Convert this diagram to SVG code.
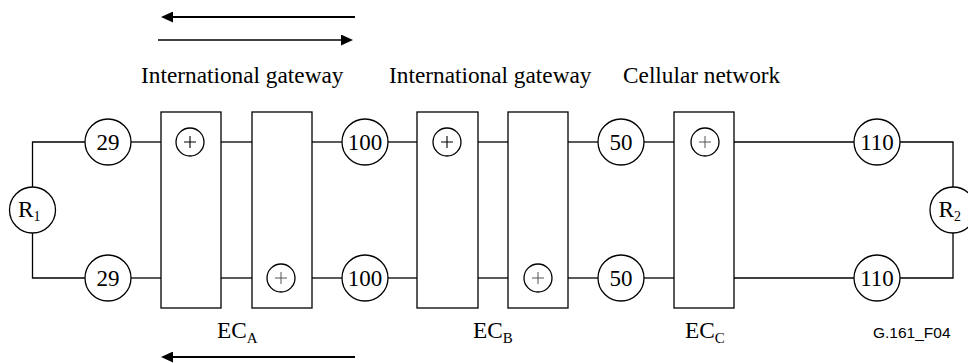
<svg xmlns="http://www.w3.org/2000/svg" width="968" height="363" viewBox="0 0 968 363">
<defs>
<style>
.w{stroke:#000;stroke-width:1.3;fill:none}
.c{stroke:#000;stroke-width:1.3;fill:#fff}
.b{stroke:#000;stroke-width:1.3;fill:#fff}
.p{stroke:#000;stroke-width:1.1;fill:none}
.pl{stroke:#444;stroke-width:0.9;fill:none}
.t{font-family:'Liberation Serif','Times New Roman',Times,serif;font-size:23.3px;fill:#000}
.n{font-family:'Liberation Serif','Times New Roman',Times,serif;font-size:23px;fill:#000;text-anchor:middle}
.s{font-family:'Liberation Sans',Arial,Helvetica,sans-serif;font-size:15.5px;fill:#000}
</style>
<marker id="ah" markerUnits="userSpaceOnUse" markerWidth="12" markerHeight="11" refX="8" refY="5.5" orient="auto">
<path d="M0,0 L12,5.5 L0,11 Z" fill="#000"/>
</marker>
</defs>
<rect width="968" height="363" fill="#fff"/>

<g id="direction-arrows">
<line x1="355" y1="17" x2="165" y2="17" stroke="#000" stroke-width="2" marker-end="url(#ah)"/>
<line x1="158" y1="40" x2="349" y2="40" stroke="#000" stroke-width="1.4" marker-end="url(#ah)"/>
<line x1="355" y1="357" x2="165" y2="357" stroke="#000" stroke-width="2" marker-end="url(#ah)"/>
</g>

<g id="labels" font-family="Liberation Serif, Times New Roman, serif">
<text class="t" x="141" y="83">International gateway</text>
<text class="t" x="389" y="83">International gateway</text>
<text class="t" x="623" y="83">Cellular network</text>
<text class="t" x="217" y="338">EC<tspan font-size="15" dy="5">A</tspan></text>
<text class="t" x="473" y="338">EC<tspan font-size="15" dy="5">B</tspan></text>
<text class="t" x="685" y="338">EC<tspan font-size="15" dy="5">C</tspan></text>
<text class="s" x="873" y="338" font-family="Liberation Sans, Arial, sans-serif">G.161_F04</text>
</g>

<g id="connectors">
<polyline class="w" points="85,142 32.5,142 32.5,187"/>
<polyline class="w" points="85,278 32.5,278 32.5,233"/>
<line class="w" x1="131" y1="142" x2="161" y2="142"/>
<line class="w" x1="131" y1="278" x2="161" y2="278"/>
<line class="w" x1="221" y1="142" x2="252" y2="142"/>
<line class="w" x1="221" y1="278" x2="252" y2="278"/>
<line class="w" x1="312" y1="142" x2="342" y2="142"/>
<line class="w" x1="312" y1="278" x2="342" y2="278"/>
<line class="w" x1="388" y1="142" x2="417" y2="142"/>
<line class="w" x1="388" y1="278" x2="417" y2="278"/>
<line class="w" x1="478" y1="142" x2="508" y2="142"/>
<line class="w" x1="478" y1="278" x2="508" y2="278"/>
<line class="w" x1="568" y1="142" x2="598" y2="142"/>
<line class="w" x1="568" y1="278" x2="598" y2="278"/>
<line class="w" x1="644" y1="142" x2="674" y2="142"/>
<line class="w" x1="644" y1="278" x2="674" y2="278"/>
<line class="w" x1="734" y1="142" x2="854" y2="142"/>
<line class="w" x1="734" y1="278" x2="854" y2="278"/>
<polyline class="w" points="900,142 953,142 953,187"/>
<polyline class="w" points="900,278 953,278 953,233"/>
</g>

<g id="R1" font-family="Liberation Serif, Times New Roman, serif"><circle class="c" cx="32.5" cy="210" r="23"/><text class="t" x="18" y="217" font-size="23">R<tspan font-size="14" dy="4">1</tspan></text></g>
<g id="R2" font-family="Liberation Serif, Times New Roman, serif"><circle class="c" cx="953" cy="210" r="23"/><text class="t" x="938.5" y="217" font-size="23">R<tspan font-size="14" dy="4">2</tspan></text></g>

<g id="delays" font-family="Liberation Serif, Times New Roman, serif">
<g id="d29-top"><circle class="c" cx="108" cy="142" r="23"/><text class="n" x="108" y="150">29</text></g>
<g id="d29-bot"><circle class="c" cx="108" cy="278" r="23"/><text class="n" x="108" y="286">29</text></g>
<g id="d100-top"><circle class="c" cx="365" cy="142" r="23"/><text class="n" x="365" y="150">100</text></g>
<g id="d100-bot"><circle class="c" cx="365" cy="278" r="23"/><text class="n" x="365" y="286">100</text></g>
<g id="d50-top"><circle class="c" cx="621" cy="142" r="23"/><text class="n" x="621" y="150">50</text></g>
<g id="d50-bot"><circle class="c" cx="621" cy="278" r="23"/><text class="n" x="621" y="286">50</text></g>
<g id="d110-top"><circle class="c" cx="877" cy="142" r="23"/><text class="n" x="877" y="150">110</text></g>
<g id="d110-bot"><circle class="c" cx="877" cy="278" r="23"/><text class="n" x="877" y="286">110</text></g>
</g>

<g id="ECA1"><rect class="b" x="161" y="112" width="60" height="196"/><circle class="w" cx="190" cy="142" r="14"/><path class="p" d="M184,142 H196 M190,136 V148"/></g>
<g id="ECA2"><rect class="b" x="252" y="112" width="60" height="196"/><circle class="w" cx="281" cy="278" r="14"/><path class="pl" d="M275,278 H287 M281,272 V284"/></g>
<g id="ECB1"><rect class="b" x="417" y="112" width="61" height="196"/><circle class="w" cx="447" cy="142" r="14"/><path class="p" d="M441,142 H453 M447,136 V148"/></g>
<g id="ECB2"><rect class="b" x="508" y="112" width="60" height="196"/><circle class="w" cx="538" cy="278" r="14"/><path class="pl" d="M532,278 H544 M538,272 V284"/></g>
<g id="ECC"><rect class="b" x="674" y="112" width="60" height="196"/><circle class="w" cx="705" cy="142" r="14"/><path class="pl" d="M699,142 H711 M705,136 V148"/></g>
</svg>
